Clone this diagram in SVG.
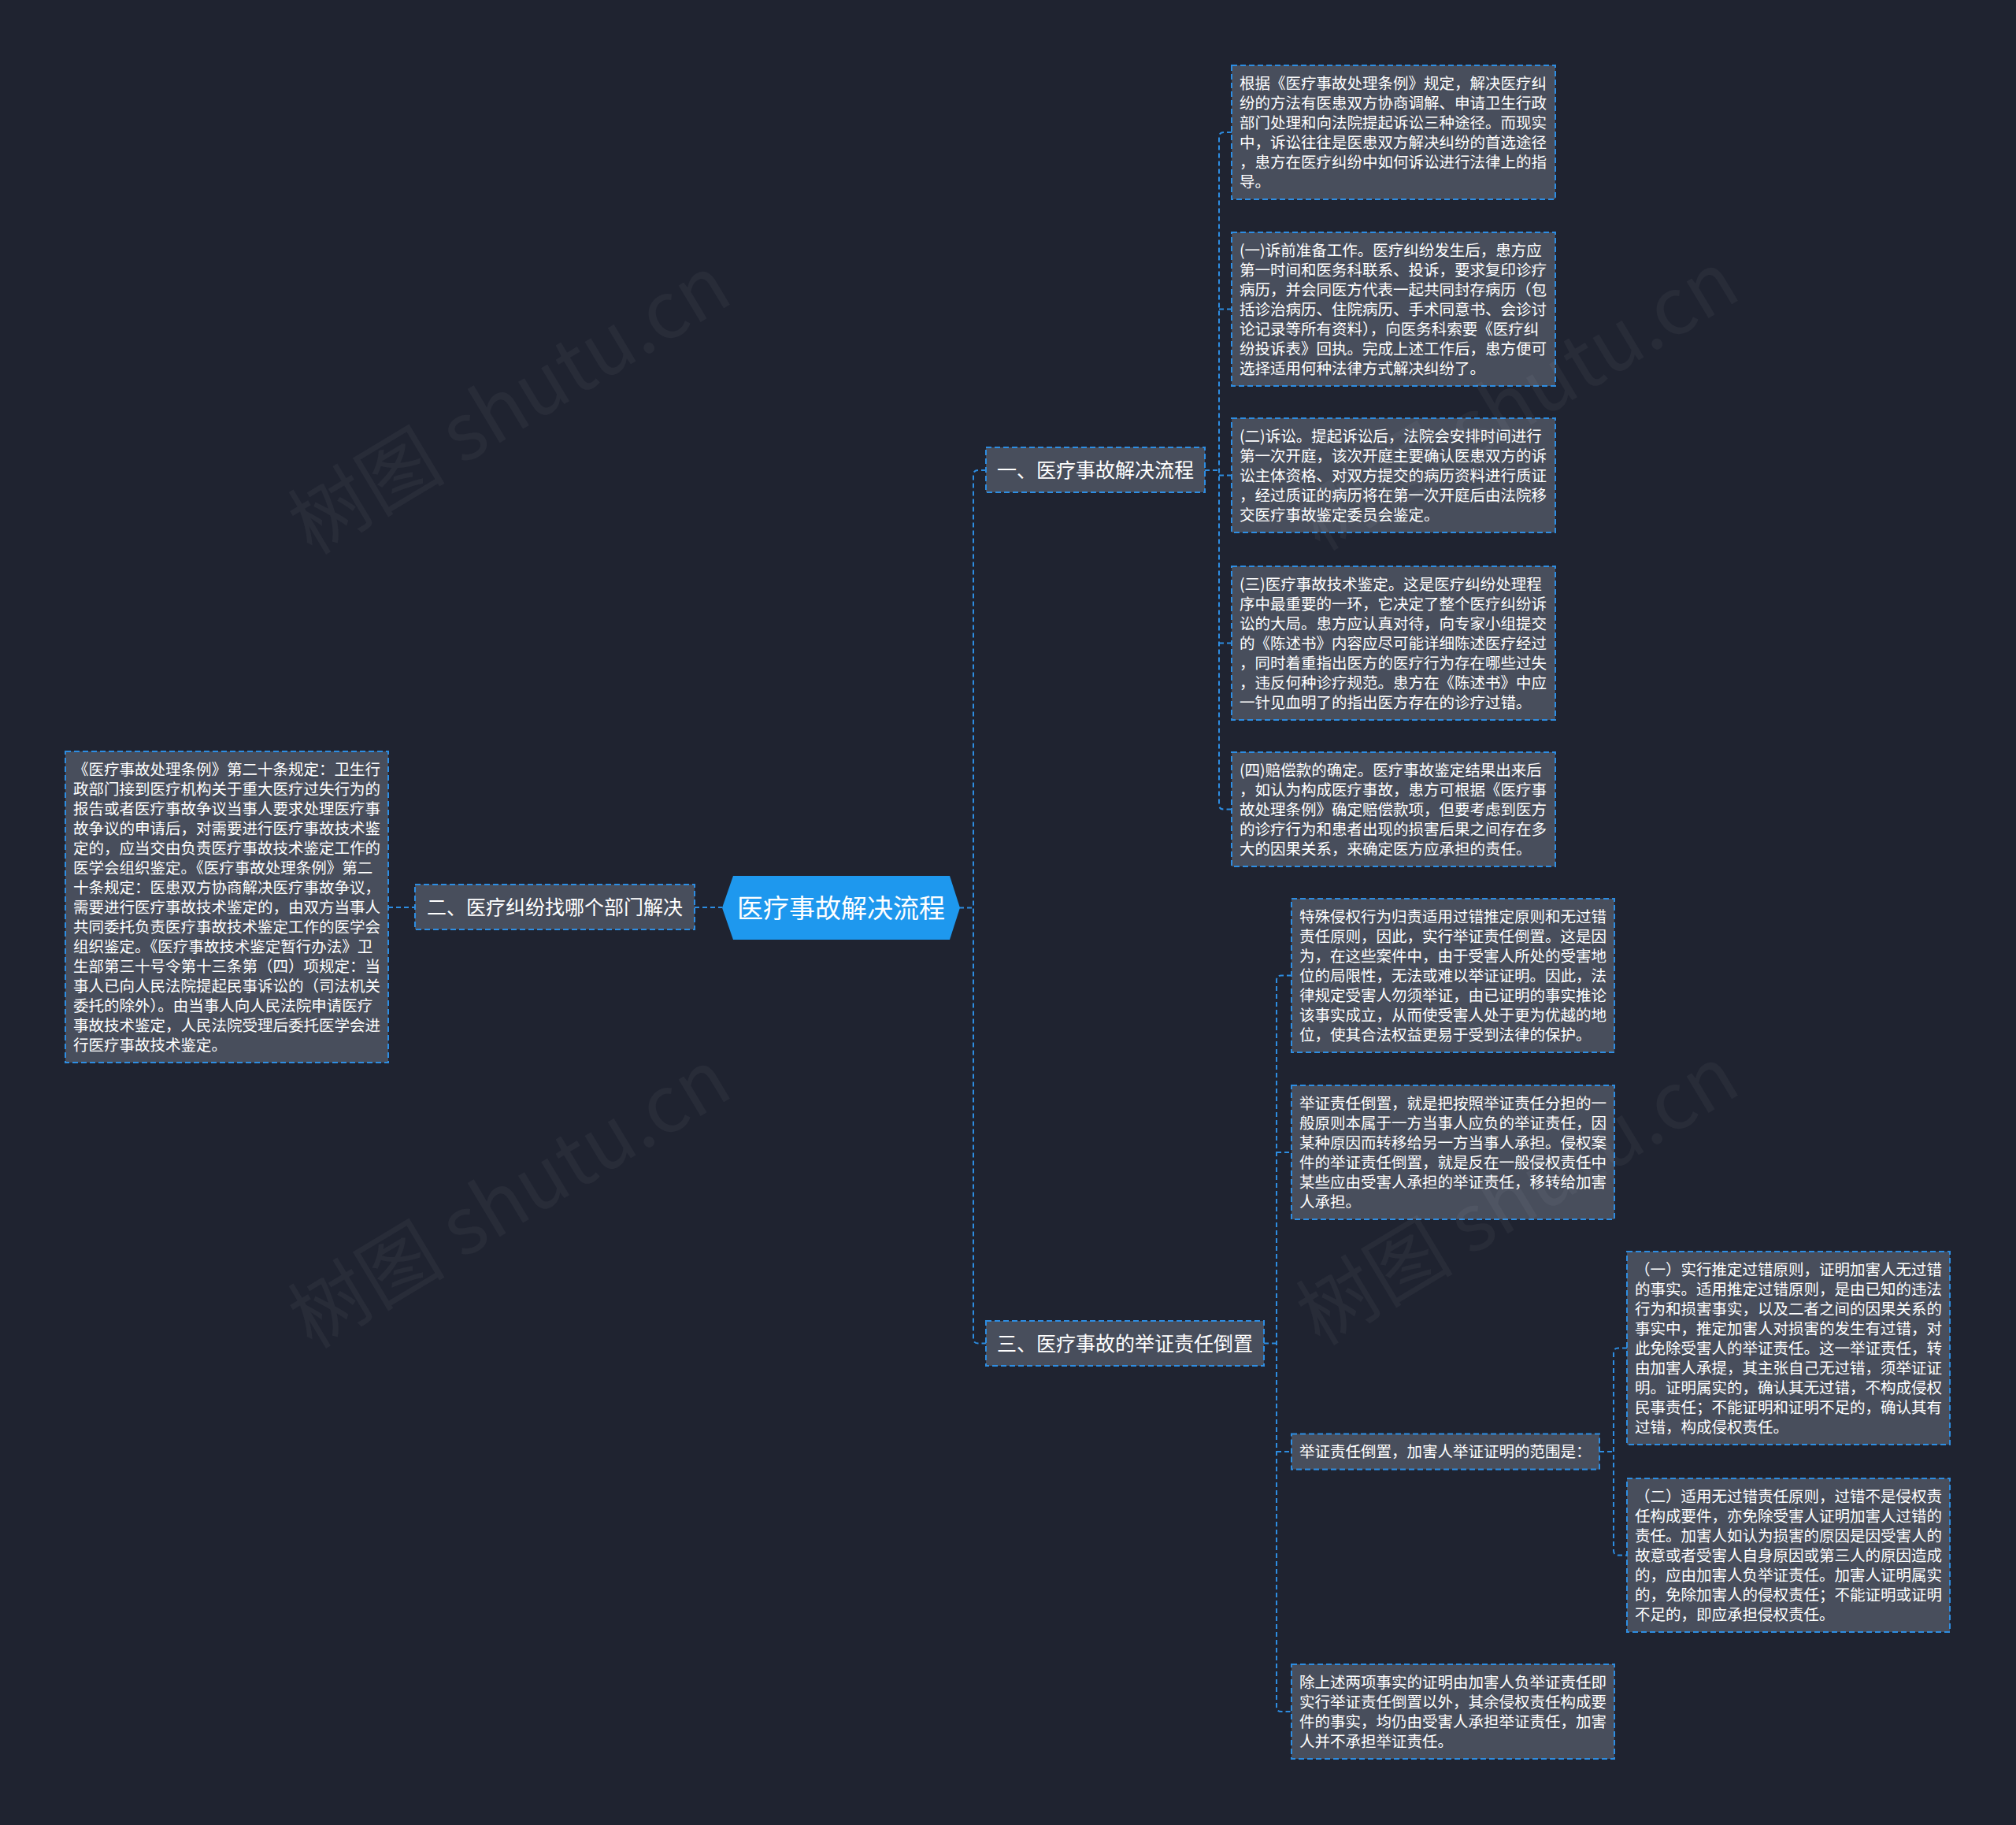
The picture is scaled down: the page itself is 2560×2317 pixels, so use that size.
<svg xmlns="http://www.w3.org/2000/svg" width="2560" height="2317" viewBox="0 0 2560 2317">
<style>
.bg{fill:#1f2330}
.box{fill:#484e5c;stroke:#2d8de2;stroke-width:2;stroke-dasharray:7 4}
.t{font-family:"Noto Sans CJK SC","Noto Sans",sans-serif;font-size:19.5px;fill:#ffffff}
.bt{font-family:"Noto Sans CJK SC","Noto Sans",sans-serif;font-size:25px;fill:#ffffff;text-anchor:middle}
.ct{font-family:"Noto Sans CJK SC","Noto Sans",sans-serif;font-size:33px;fill:#ffffff;text-anchor:middle}
.wm{font-family:"Noto Sans CJK SC","Noto Sans",sans-serif;font-size:100px;fill:#ffffff;fill-opacity:0.045;text-anchor:middle}
.c{fill:none;stroke:#2d8de2;stroke-width:2;stroke-dasharray:6 4}
</style>
<rect class="bg" x="0" y="0" width="2560" height="2317"/>

<g id="connectors">
<path class="c" d="M1218,1152.5 H1236"/>
<path class="c" d="M1252,597 H1242 Q1236,597 1236,603 V1699.5 Q1236,1705.5 1242,1705.5 H1252"/>
<path class="c" d="M882,1152 H917"/>
<path class="c" d="M493,1152 H527"/>
<path class="c" d="M1530,597 H1548"/>
<path class="c" d="M1564,168 H1554 Q1548,168 1548,174 V1021.5 Q1548,1027.5 1554,1027.5 H1564"/>
<path class="c" d="M1548,392.5 H1564"/>
<path class="c" d="M1548,603.5 H1564"/>
<path class="c" d="M1548,816.5 H1564"/>
<path class="c" d="M1605,1705.5 H1621"/>
<path class="c" d="M1640,1238.5 H1627 Q1621,1238.5 1621,1244.5 V2167 Q1621,2173 1627,2173 H1640"/>
<path class="c" d="M1621,1463 H1640"/>
<path class="c" d="M1621,1843 H1640"/>
<path class="c" d="M2031,1843 H2049"/>
<path class="c" d="M2066,1711.5 H2055 Q2049,1711.5 2049,1717.5 V1968.5 Q2049,1974.5 2055,1974.5 H2066"/>
</g>

<g id="center">
<polygon points="917,1152.5 931,1112 1206,1112 1219,1152.5 1206,1193 931,1193" fill="#1e98ee"/>
<text class="ct" x="1068" y="1164.5">医疗事故解决流程</text>
</g>

<g id="branch1">
<rect class="box" x="1252" y="568" width="278" height="57"/>
<text class="bt" x="1391" y="605.5">一、医疗事故解决流程</text>
</g>

<g id="branch2">
<rect class="box" x="527" y="1123" width="355" height="57"/>
<text class="bt" x="704.5" y="1160.5">二、医疗纠纷找哪个部门解决</text>
</g>

<g id="branch3">
<rect class="box" x="1252" y="1677" width="353" height="57"/>
<text class="bt" x="1428.5" y="1714.5">三、医疗事故的举证责任倒置</text>
</g>

<g id="n1">
<rect class="box" x="1564" y="83" width="411" height="170"/>
<text class="t" x="1574" y="112.5"><tspan x="1574" dy="0">根据《医疗事故处理条例》规定，解决医疗纠</tspan><tspan x="1574" dy="25">纷的方法有医患双方协商调解、申请卫生行政</tspan><tspan x="1574" dy="25">部门处理和向法院提起诉讼三种途径。而现实</tspan><tspan x="1574" dy="25">中，诉讼往往是医患双方解决纠纷的首选途径</tspan><tspan x="1574" dy="25">，患方在医疗纠纷中如何诉讼进行法律上的指</tspan><tspan x="1574" dy="25">导。</tspan></text>
</g>

<g id="n2">
<rect class="box" x="1564" y="295" width="411" height="195"/>
<text class="t" x="1574" y="324.5"><tspan x="1574" dy="0">(一)诉前准备工作。医疗纠纷发生后，患方应</tspan><tspan x="1574" dy="25">第一时间和医务科联系、投诉，要求复印诊疗</tspan><tspan x="1574" dy="25">病历，并会同医方代表一起共同封存病历（包</tspan><tspan x="1574" dy="25">括诊治病历、住院病历、手术同意书、会诊讨</tspan><tspan x="1574" dy="25">论记录等所有资料），向医务科索要《医疗纠</tspan><tspan x="1574" dy="25">纷投诉表》回执。完成上述工作后，患方便可</tspan><tspan x="1574" dy="25">选择适用何种法律方式解决纠纷了。</tspan></text>
</g>

<g id="n3">
<rect class="box" x="1564" y="531" width="411" height="145"/>
<text class="t" x="1574" y="560.5"><tspan x="1574" dy="0">(二)诉讼。提起诉讼后，法院会安排时间进行</tspan><tspan x="1574" dy="25">第一次开庭，该次开庭主要确认医患双方的诉</tspan><tspan x="1574" dy="25">讼主体资格、对双方提交的病历资料进行质证</tspan><tspan x="1574" dy="25">，经过质证的病历将在第一次开庭后由法院移</tspan><tspan x="1574" dy="25">交医疗事故鉴定委员会鉴定。</tspan></text>
</g>

<g id="n4">
<rect class="box" x="1564" y="719" width="411" height="195"/>
<text class="t" x="1574" y="748.5"><tspan x="1574" dy="0">(三)医疗事故技术鉴定。这是医疗纠纷处理程</tspan><tspan x="1574" dy="25">序中最重要的一环，它决定了整个医疗纠纷诉</tspan><tspan x="1574" dy="25">讼的大局。患方应认真对待，向专家小组提交</tspan><tspan x="1574" dy="25">的《陈述书》内容应尽可能详细陈述医疗经过</tspan><tspan x="1574" dy="25">，同时着重指出医方的医疗行为存在哪些过失</tspan><tspan x="1574" dy="25">，违反何种诊疗规范。患方在《陈述书》中应</tspan><tspan x="1574" dy="25">一针见血明了的指出医方存在的诊疗过错。</tspan></text>
</g>

<g id="n5">
<rect class="box" x="1564" y="955" width="411" height="145"/>
<text class="t" x="1574" y="984.5"><tspan x="1574" dy="0">(四)赔偿款的确定。医疗事故鉴定结果出来后</tspan><tspan x="1574" dy="25">，如认为构成医疗事故，患方可根据《医疗事</tspan><tspan x="1574" dy="25">故处理条例》确定赔偿款项，但要考虑到医方</tspan><tspan x="1574" dy="25">的诊疗行为和患者出现的损害后果之间存在多</tspan><tspan x="1574" dy="25">大的因果关系，来确定医方应承担的责任。</tspan></text>
</g>

<g id="left">
<rect class="box" x="83" y="954" width="410" height="395"/>
<text class="t" x="93" y="983.5"><tspan x="93" dy="0">《医疗事故处理条例》第二十条规定：卫生行</tspan><tspan x="93" dy="25">政部门接到医疗机构关于重大医疗过失行为的</tspan><tspan x="93" dy="25">报告或者医疗事故争议当事人要求处理医疗事</tspan><tspan x="93" dy="25">故争议的申请后，对需要进行医疗事故技术鉴</tspan><tspan x="93" dy="25">定的，应当交由负责医疗事故技术鉴定工作的</tspan><tspan x="93" dy="25">医学会组织鉴定。《医疗事故处理条例》第二</tspan><tspan x="93" dy="25">十条规定：医患双方协商解决医疗事故争议，</tspan><tspan x="93" dy="25">需要进行医疗事故技术鉴定的，由双方当事人</tspan><tspan x="93" dy="25">共同委托负责医疗事故技术鉴定工作的医学会</tspan><tspan x="93" dy="25">组织鉴定。《医疗事故技术鉴定暂行办法》卫</tspan><tspan x="93" dy="25">生部第三十号令第十三条第（四）项规定：当</tspan><tspan x="93" dy="25">事人已向人民法院提起民事诉讼的（司法机关</tspan><tspan x="93" dy="25">委托的除外）。由当事人向人民法院申请医疗</tspan><tspan x="93" dy="25">事故技术鉴定，人民法院受理后委托医学会进</tspan><tspan x="93" dy="25">行医疗事故技术鉴定。</tspan></text>
</g>

<g id="n6">
<rect class="box" x="1640" y="1141" width="410" height="195"/>
<text class="t" x="1650" y="1170.5"><tspan x="1650" dy="0">特殊侵权行为归责适用过错推定原则和无过错</tspan><tspan x="1650" dy="25">责任原则，因此，实行举证责任倒置。这是因</tspan><tspan x="1650" dy="25">为，在这些案件中，由于受害人所处的受害地</tspan><tspan x="1650" dy="25">位的局限性，无法或难以举证证明。因此，法</tspan><tspan x="1650" dy="25">律规定受害人勿须举证，由已证明的事实推论</tspan><tspan x="1650" dy="25">该事实成立，从而使受害人处于更为优越的地</tspan><tspan x="1650" dy="25">位，使其合法权益更易于受到法律的保护。</tspan></text>
</g>

<g id="n7">
<rect class="box" x="1640" y="1378" width="410" height="170"/>
<text class="t" x="1650" y="1407.5"><tspan x="1650" dy="0">举证责任倒置，就是把按照举证责任分担的一</tspan><tspan x="1650" dy="25">般原则本属于一方当事人应负的举证责任，因</tspan><tspan x="1650" dy="25">某种原因而转移给另一方当事人承担。侵权案</tspan><tspan x="1650" dy="25">件的举证责任倒置，就是反在一般侵权责任中</tspan><tspan x="1650" dy="25">某些应由受害人承担的举证责任，移转给加害</tspan><tspan x="1650" dy="25">人承担。</tspan></text>
</g>

<g id="n8">
<rect class="box" x="1640" y="1820.5" width="391" height="45"/>
<text class="t" x="1650" y="1850">举证责任倒置，加害人举证证明的范围是：</text>
</g>

<g id="n9">
<rect class="box" x="2066" y="1589" width="410" height="245"/>
<text class="t" x="2076" y="1618.5"><tspan x="2076" dy="0">（一）实行推定过错原则，证明加害人无过错</tspan><tspan x="2076" dy="25">的事实。适用推定过错原则，是由已知的违法</tspan><tspan x="2076" dy="25">行为和损害事实，以及二者之间的因果关系的</tspan><tspan x="2076" dy="25">事实中，推定加害人对损害的发生有过错，对</tspan><tspan x="2076" dy="25">此免除受害人的举证责任。这一举证责任，转</tspan><tspan x="2076" dy="25">由加害人承提，其主张自己无过错，须举证证</tspan><tspan x="2076" dy="25">明。证明属实的，确认其无过错，不构成侵权</tspan><tspan x="2076" dy="25">民事责任；不能证明和证明不足的，确认其有</tspan><tspan x="2076" dy="25">过错，构成侵权责任。</tspan></text>
</g>

<g id="n10">
<rect class="box" x="2066" y="1877" width="410" height="195"/>
<text class="t" x="2076" y="1906.5"><tspan x="2076" dy="0">（二）适用无过错责任原则，过错不是侵权责</tspan><tspan x="2076" dy="25">任构成要件，亦免除受害人证明加害人过错的</tspan><tspan x="2076" dy="25">责任。加害人如认为损害的原因是因受害人的</tspan><tspan x="2076" dy="25">故意或者受害人自身原因或第三人的原因造成</tspan><tspan x="2076" dy="25">的，应由加害人负举证责任。加害人证明属实</tspan><tspan x="2076" dy="25">的，免除加害人的侵权责任；不能证明或证明</tspan><tspan x="2076" dy="25">不足的，即应承担侵权责任。</tspan></text>
</g>

<g id="n11">
<rect class="box" x="1640" y="2113" width="410" height="120"/>
<text class="t" x="1650" y="2142.5"><tspan x="1650" dy="0">除上述两项事实的证明由加害人负举证责任即</tspan><tspan x="1650" dy="25">实行举证责任倒置以外，其余侵权责任构成要</tspan><tspan x="1650" dy="25">件的事实，均仍由受害人承担举证责任，加害</tspan><tspan x="1650" dy="25">人并不承担举证责任。</tspan></text>
</g>

<g id="watermarks">
<text class="wm" transform="translate(647,514) rotate(-31)" x="0" y="35">树图 shutu.cn</text>
<text class="wm" transform="translate(1927,509) rotate(-31)" x="0" y="35">树图 shutu.cn</text>
<text class="wm" transform="translate(647,1522) rotate(-31)" x="0" y="35">树图 shutu.cn</text>
<text class="wm" transform="translate(1927,1518) rotate(-31)" x="0" y="35">树图 shutu.cn</text>
</g>
</svg>
